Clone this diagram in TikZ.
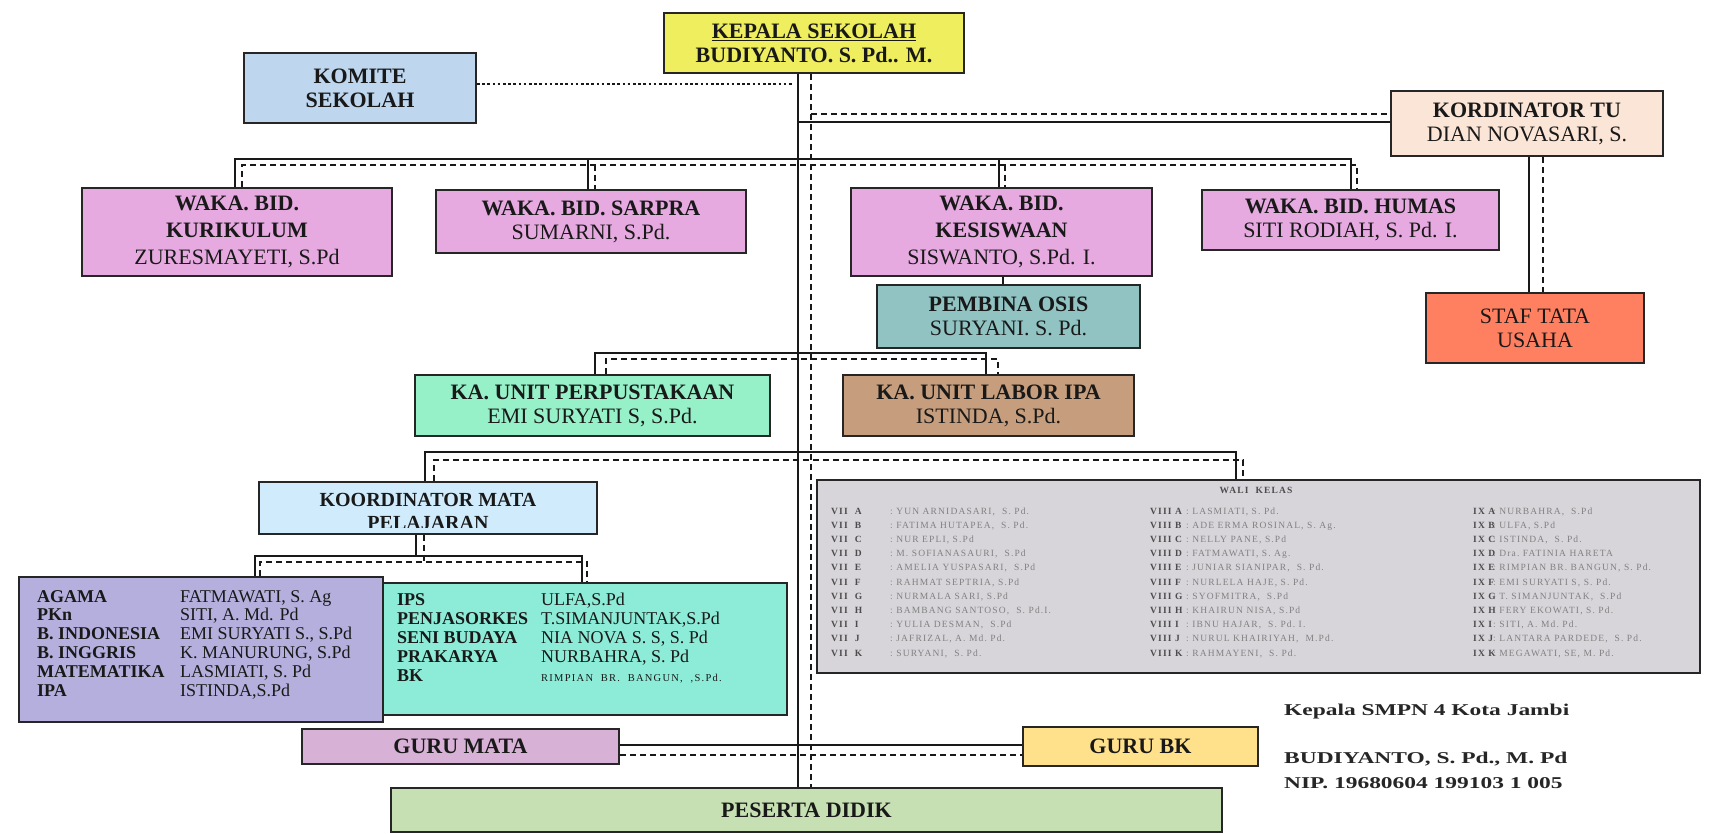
\documentclass[tikz,border=0pt]{standalone}
\usepackage{fontspec}
\usepackage{graphicx}
\setmainfont{Liberation Serif}
\newfontfamily\walif[LetterSpace=12]{Liberation Serif}
\usetikzlibrary{calc}
\definecolor{cKep}{RGB}{238,238,94}
\definecolor{cKom}{RGB}{190,215,238}
\definecolor{cKord}{RGB}{251,229,214}
\definecolor{cStaf}{RGB}{255,128,96}
\definecolor{cWaka}{RGB}{230,170,225}
\definecolor{cOsis}{RGB}{145,195,195}
\definecolor{cPerp}{RGB}{150,240,200}
\definecolor{cLab}{RGB}{198,158,125}
\definecolor{cKoord}{RGB}{208,236,252}
\definecolor{cAgama}{RGB}{180,175,220}
\definecolor{cIps}{RGB}{140,236,215}
\definecolor{cGmata}{RGB}{216,178,214}
\definecolor{cGbk}{RGB}{255,225,140}
\definecolor{cPes}{RGB}{198,224,180}
\definecolor{cWali}{RGB}{216,213,218}
\tikzset{
  bx/.style={draw=black!85, line width=1.8pt, inner sep=0pt, align=center, text=black!90,
             font=\fontsize{22}{24}\selectfont},
  bx3/.style={bx, font=\fontsize{22}{27}\selectfont},
  sol/.style={draw=black!90, line width=1.3pt},
  dsh/.style={draw=black!90, line width=1.3pt, dash pattern=on 6pt off 4pt},
  dott/.style={draw=black!90, line width=2.6pt, dash pattern=on 2.6pt off 2.6pt},
  lst/.style={anchor=base west, inner sep=0pt, text=black!90, font=\fontsize{18}{20}\selectfont},
  lstb/.style={lst, font=\fontsize{18}{20}\selectfont\bfseries},
  wl/.style={anchor=base west, inner sep=0pt, text=black!70, font=\walif\fontsize{9.5}{11}\selectfont\bfseries},
  wn/.style={anchor=base west, inner sep=0pt, text=black!50, font=\walif\fontsize{9.5}{11}\selectfont},
  sig/.style={anchor=base west, inner sep=0pt, text=black!85, font=\fontsize{16.5}{18}\selectfont\bfseries}
}
\begin{document}
\begin{tikzpicture}[x=1pt,y=-1pt]
\useasboundingbox (0,0) rectangle (1709,834);
\fill[white] (0,0) rectangle (1709,834);

% ---------- boxes ----------
\node[bx, fill=cKep, minimum width=300pt, minimum height=60pt] (kep) at (814,43)
  {\textbf{\underline{KEPALA SEKOLAH}}\\\textbf{BUDIYANTO. S. Pd.. M.}};
\node[bx, fill=cKom, minimum width=232pt, minimum height=70pt] (kom) at (360,88)
  {\textbf{KOMITE}\\\textbf{SEKOLAH}};
\node[bx, fill=cKord, minimum width=272pt, minimum height=65pt] (kord) at (1527,123.5)
  {\textbf{KORDINATOR TU}\\DIAN NOVASARI, S.};
\node[bx, fill=cStaf, minimum width=218pt, minimum height=70pt] (staf) at (1535,328)
  {STAF TATA\\USAHA};
\node[bx3, fill=cWaka, minimum width=310pt, minimum height=88pt] (kur) at (237,232)
  {\textbf{WAKA. BID.}\\\textbf{KURIKULUM}\\ZURESMAYETI, S.Pd};
\node[bx, fill=cWaka, minimum width=310pt, minimum height=63pt] (sar) at (591,221.5)
  {\textbf{WAKA. BID. SARPRA}\\SUMARNI, S.Pd.};
\node[bx3, fill=cWaka, minimum width=301pt, minimum height=88pt] (kes) at (1001.5,232)
  {\textbf{WAKA. BID.}\\\textbf{KESISWAAN}\\SISWANTO, S.Pd. I.};
\node[bx, fill=cWaka, minimum width=297pt, minimum height=60pt] (hum) at (1350.5,220)
  {\textbf{WAKA. BID. HUMAS}\\SITI RODIAH, S. Pd. I.};
\node[bx, fill=cOsis, minimum width=263pt, minimum height=63pt] (osis) at (1008.5,316.5)
  {\textbf{PEMBINA OSIS}\\SURYANI. S. Pd.};
\node[bx, fill=cPerp, minimum width=355pt, minimum height=61pt] (perp) at (592.5,405.5)
  {\textbf{KA. UNIT PERPUSTAKAAN}\\EMI SURYATI S, S.Pd.};
\node[bx, fill=cLab, minimum width=291pt, minimum height=61pt] (lab) at (988.5,405.5)
  {\textbf{KA. UNIT LABOR IPA}\\ISTINDA, S.Pd.};
\node[bx, fill=cKoord, minimum width=338pt, minimum height=52pt] (koord) at (428,508) {};
\begin{scope}
  \clip (259,482) rectangle (597,527.5);
  \node[inner sep=0pt, align=center, text=black!90, font=\fontsize{20}{23}\selectfont\bfseries]
    (koordt) at (428,511) {KOORDINATOR MATA\\PELAJARAN};
\end{scope}
\node[bx, fill=cIps, minimum width=404pt, minimum height=132pt] (ips) at (585,649) {};
\node[bx, fill=cAgama, minimum width=364pt, minimum height=145pt] (agama) at (201,649.5) {};
\node[bx, fill=cGmata, minimum width=317pt, minimum height=35pt] (gmata) at (460.5,746.5)
  {\textbf{GURU MATA}};
\node[bx, fill=cGbk, minimum width=235pt, minimum height=39pt] (gbk) at (1140.5,746.5)
  {\textbf{GURU BK}};
\node[bx, fill=cPes, minimum width=831pt, minimum height=44pt] (pes) at (806.5,810)
  {\textbf{PESERTA DIDIK}};
\node[bx, fill=cWali, minimum width=883pt, minimum height=193pt] (wali) at (1258.5,576.5) {};

% ---------- subject lists ----------
\foreach \l/\r [count=\i from 0] in {AGAMA/{FATMAWATI, S. Ag}, PKn/{SITI, A. Md. Pd},
    B. INDONESIA/{EMI SURYATI S., S.Pd}, B. INGGRIS/{K. MANURUNG, S.Pd},
    MATEMATIKA/{LASMIATI, S. Pd}, IPA/{ISTINDA,S.Pd}} {
  \node[lstb] (agl\i) at (37,{602+18.8*\i}) {\l};
  \node[lst] (agr\i) at (180,{602+18.8*\i}) {\r};
}
\foreach \l/\r [count=\i from 0] in {IPS/{ULFA,S.Pd}, PENJASORKES/{T.SIMANJUNTAK,S.Pd},
    SENI BUDAYA/{NIA NOVA S. S, S. Pd}, PRAKARYA/{NURBAHRA, S. Pd}} {
  \node[lstb] (ipl\i) at (397,{605+19*\i}) {\l};
  \node[lst] (ipr\i) at (541,{605+19*\i}) {\r};
}
\node[lstb] (ipl4) at (397,681) {BK};
\node[lst, font=\walif\fontsize{10.5}{12}\selectfont] (ipr4) at (541,681) {RIMPIAN~~BR.~~BANGUN,~~,S.Pd.};

% ---------- wali kelas ----------
\node[wl, anchor=base] (walit) at (1256,493) {WALI~~KELAS};
\foreach \c/\n [count=\i from 0] in {A/{YUN~ARNIDASARI,~~S.~Pd.}, B/{FATIMA~HUTAPEA,~~S.~Pd.},
    C/{NUR~EPLI,~S.Pd}, D/{M.~SOFIANASAURI,~~S.Pd}, E/{AMELIA~YUSPASARI,~~S.Pd},
    F/{RAHMAT~SEPTRIA,~S.Pd}, G/{NURMALA~SARI,~S.Pd}, H/{BAMBANG~SANTOSO,~~S.~Pd.I.},
    I/{YULIA~DESMAN,~~S.Pd}, J/{JAFRIZAL,~A.~Md.~Pd.}, K/{SURYANI,~~S.~Pd.}} {
  \node[wl] (w7l\i) at (831,{514+14.2*\i}) {VII~~\c};
  \node[wn] (w7n\i) at (890,{514+14.2*\i}) {:~\n};
}
\foreach \c/\n [count=\i from 0] in {A/{LASMIATI,~S.~Pd.}, B/{ADE~ERMA~ROSINAL,~S.~Ag.},
    C/{NELLY~PANE,~S.Pd}, D/{FATMAWATI,~S.~Ag.}, E/{JUNIAR~SIANIPAR,~~S.~Pd.},
    F/{NURLELA~HAJE,~S.~Pd.}, G/{SYOFMITRA,~~S.Pd}, H/{KHAIRUN~NISA,~S.Pd},
    I/{IBNU~HAJAR,~~S.~Pd.~I.}, J/{NURUL~KHAIRIYAH,~~M.Pd.}, K/{RAHMAYENI,~~S.~Pd.}} {
  \node[wl] (w8l\i) at (1150,{514+14.2*\i}) {VIII~\c};
  \node[wn] (w8n\i) at (1186,{514+14.2*\i}) {:~\n};
}
\foreach \c/\n [count=\i from 0] in {A/{NURBAHRA,~~S.Pd}, B/{ULFA,~S.Pd}, C/{ISTINDA,~~S.~Pd.},
    D/{Dra.~FATINIA~HARETA}, E/{RIMPIAN~BR.~BANGUN,~S.~Pd.}, F/{EMI~SURYATI~S,~S.~Pd.},
    G/{T.~SIMANJUNTAK,~~S.Pd}, H/{FERY~EKOWATI,~S.~Pd.}, I/{SITI,~A.~Md.~Pd.},
    J/{LANTARA~PARDEDE,~~S.~Pd.}, K/{MEGAWATI,~SE,~M.~Pd.}} {
  \node[wl] (w9l\i) at (1473,{514+14.2*\i}) {IX~\c};
  \node[wn] (w9n\i) at (1493,{514+14.2*\i}) {:~\n};
}

% ---------- signature ----------
\node[sig] (sig1) at (1284,715) {\scalebox{1.42}[1]{Kepala SMPN 4 Kota Jambi}};
\node[sig] (sig2) at (1284,763) {\scalebox{1.42}[1]{BUDIYANTO, S. Pd., M. Pd}};
\node[sig] (sig3) at (1284,788) {\scalebox{1.42}[1]{NIP. 19680604 199103 1 005}};

% ---------- connectors ----------
\coordinate (tS) at (798,0);
\coordinate (tD) at (811,0);
\draw[sol] (kep.south -| tS) -- (pes.north -| tS);
\draw[dsh] (kep.south -| tD) -- (pes.north -| tD);

\coordinate (dY) at (793,84);
\draw[dott] (kom.east |- dY) -- (dY);

\coordinate (kdY) at (0,114);
\coordinate (ksY) at (0,122);
\draw[dsh] (tD |- kdY) -- (kord.west |- kdY);
\draw[sol] (tS |- ksY) -- (kord.west |- ksY);

\coordinate (sfS) at (1529,0);
\coordinate (sfD) at (1543,0);
\draw[sol] (kord.south -| sfS) -- (staf.north -| sfS);
\draw[dsh] (kord.south -| sfD) -- (staf.north -| sfD);

\coordinate (kurS) at (235,159);  \coordinate (kurD) at (242,165);
\coordinate (sarS) at (588,159);  \coordinate (sarD) at (595,165);
\coordinate (kesS) at (999,159);  \coordinate (kesD) at (1005,165);
\coordinate (humS) at (1351,159); \coordinate (humD) at (1357,165);
\draw[sol] (kur.north -| kurS) -- (kurS) -- (humS) -- (hum.north -| humS);
\draw[sol] (sarS) -- (sar.north -| sarS);
\draw[sol] (kesS) -- (kes.north -| kesS);
\draw[dsh] (kur.north -| kurD) -- (kurD) -- (humD) -- (hum.north -| humD);
\draw[dsh] (sarD) -- (sar.north -| sarD);
\draw[dsh] (kesD) -- (kes.north -| kesD);

\coordinate (osX) at (1003,0);
\draw[sol] (kes.south -| osX) -- (osis.north -| osX);

\coordinate (perS) at (595,353); \coordinate (perD) at (606,359);
\coordinate (labS) at (986,353); \coordinate (labD) at (998,359);
\draw[sol] (perp.north -| perS) -- (perS) -- (labS) -- (lab.north -| labS);
\draw[dsh] (perp.north -| perD) -- (perD) -- (labD) -- (lab.north -| labD);

\coordinate (koS) at (425,452);  \coordinate (koD) at (434,460);
\coordinate (waS) at (1236,452); \coordinate (waD) at (1243,460);
\draw[sol] (koord.north -| koS) -- (koS) -- (waS) -- (wali.north -| waS);
\draw[dsh] (koord.north -| koD) -- (koD) -- (waD) -- (wali.north -| waD);

\coordinate (kvS) at (416,556); \coordinate (kvD) at (424,562);
\coordinate (agS) at (255,556); \coordinate (agD) at (260,562);
\coordinate (ipS) at (582,556); \coordinate (ipD) at (587,562);
\draw[sol] (koord.south -| kvS) -- (kvS);
\draw[dsh] (koord.south -| kvD) -- (kvD);
\draw[sol] (agama.north -| agS) -- (agS) -- (ipS) -- (ips.north -| ipS);
\draw[dsh] (agama.north -| agD) -- (agD) -- (ipD) -- (ips.north -| ipD);

\coordinate (gmS) at (0,745);
\coordinate (gmD) at (0,755);
\draw[sol] (gmata.east |- gmS) -- (gbk.west |- gmS);
\draw[dsh] (gmata.east |- gmD) -- (gbk.west |- gmD);
\end{tikzpicture}
\end{document}
